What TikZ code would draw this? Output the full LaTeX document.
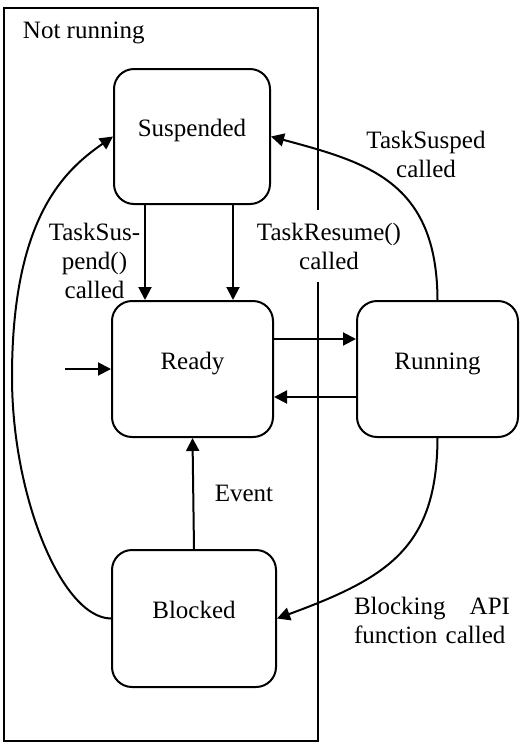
\documentclass[tikz,border=0pt]{standalone}
\usepackage{fontspec}
\setmainfont{Liberation Serif}
\usetikzlibrary{calc,arrows.meta,positioning}

\begin{document}
\begin{tikzpicture}[x=0.5pt, y=-0.5pt,
    font=\fontsize{12.5}{14.5}\selectfont,
    line width=1pt,
    >={Triangle[length=6.5pt,width=6.5pt]},
    state/.style={draw, rounded corners=10pt, minimum width=80.5pt, minimum height=68pt,
                  text height=9pt, text depth=9pt, inner sep=0pt},
    lbl/.style={align=center, inner sep=2pt}]
  \useasboundingbox (0,0) rectangle (531,745);
  \draw (4,8) rectangle (318,741);
  \node[anchor=west, inner sep=0pt] (notrun) at (22,33) {Not running};

  \node[state, minimum width=78pt, minimum height=67.5pt] (susp) at (192,136.5) {Suspended};
  \node[state] (ready) at (192.5,369) {Ready};
  \node[state] (run) at (437.5,369) {Running};
  \node[state, minimum width=82pt, minimum height=68.5pt] (blk) at (194,618.5) {Blocked};
  \coordinate (init) at (65,369);
  \coordinate (lmid) at (12,377);

  \draw[->] ($(susp.south)+(-47,0)$) coordinate (s1) -- (s1 |- ready.north);
  \draw[->] ($(susp.south)+(41,0)$) coordinate (s2) -- (s2 |- ready.north);
  \draw[->] ($(ready.east)+(0,-30)$) coordinate (r1) -- (r1 -| run.west);
  \draw[->] ($(run.west)+(0,28)$) coordinate (r2) -- (r2 -| ready.east);
  \draw[->] (init) -- (ready.west);
  \draw[->] (blk.north) -- (ready.south);
  \draw[->] (blk.west) .. controls (62,618) and (12,497) .. (lmid)
                      .. controls (12,217) and (65,170) .. (susp.west);
  \draw[->] (run.north) .. controls (437,181) and (367,162.4) .. (susp.east);
  \draw[->] (run.south) .. controls (437,547) and (388.8,577.5) .. (blk.east);

  \node[lbl] (lsusp) at (94.5,261) {TaskSus-\\pend()\\called};
  \node[lbl, fill=white, inner sep=6.5pt] (lresume) at (329,246) {TaskResume()\\called};
  \node[lbl] (lsusped) at (426,154) {TaskSusped\\called};
  \node[lbl] (levent) at (244,493) {Event};
  \node[text width=78pt, align=left, inner sep=0pt] (lblock) at (432,620) {Blocking\hfill API\\function called};
\end{tikzpicture}
\end{document}
